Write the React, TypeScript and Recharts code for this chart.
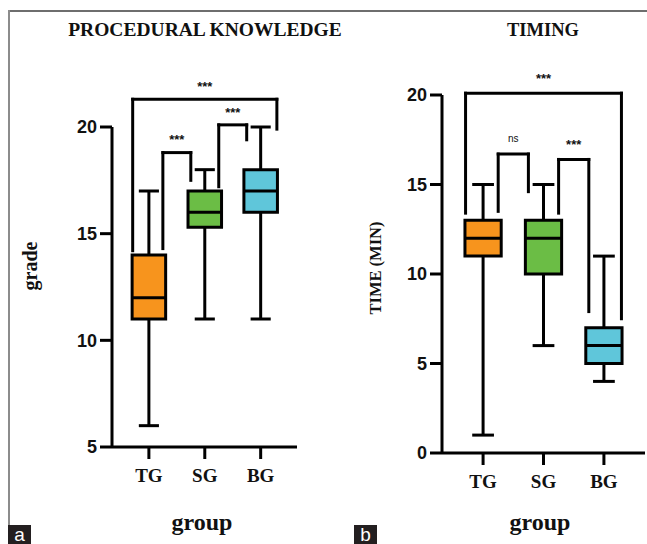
import React from "react";
import {
  ComposedChart,
  XAxis,
  YAxis,
  Scatter,
  ReferenceArea,
  ReferenceLine,
  ReferenceDot,
} from "recharts";

// ─── Data ─────────────────────────────────────────────────────────────────────

const groups = ["TG", "SG", "BG"];
const boxColors = ["#F7941D", "#6BBD45", "#5FC6DA"];

// Panel a: procedural knowledge (grade)
const gradeMin = [6, 11, 11];
const gradeQ1 = [11, 15.3, 16];
const gradeMedian = [12, 16, 17];
const gradeQ3 = [14, 17, 18];
const gradeMax = [17, 18, 20];
const gradeTicks = [5, 10, 15, 20];

// significance brackets: group pair, bar level, where each leg ends, label
const gradePairs = [[0, 2], [0, 1], [1, 2]];
const gradeBarY = [21.3, 18.8, 20.1];
const gradeLegLeft = [14.2, 14.3, 17.2];
const gradeLegRight = [19.9, 17.5, 19.4];
const gradeSig = ["***", "***", "***"];

// Panel b: timing (minutes)
const timeMin = [1, 6, 4];
const timeQ1 = [11, 10, 5];
const timeMedian = [12, 12, 6];
const timeQ3 = [13, 13, 7];
const timeMax = [15, 15, 11];
const timeTicks = [0, 5, 10, 15, 20];

const timePairs = [[0, 2], [0, 1], [1, 2]];
const timeBarY = [20.1, 16.7, 16.4];
const timeLegLeft = [13.4, 13.5, 13.4];
const timeLegRight = [7.5, 14.6, 7.9];
const timeSig = ["***", "ns", "***"];

// ─── Box plot panel ───────────────────────────────────────────────────────────

interface PanelProps {
  width: number;
  height: number;
  margin: { top: number; right: number; bottom: number; left: number };
  xDomain: [number, number];
  yDomain: [number, number];
  yTicks: number[];
  min: number[];
  q1: number[];
  median: number[];
  q3: number[];
  max: number[];
  pairs: number[][];
  barY: number[];
  legLeft: number[];
  legRight: number[];
  sig: string[];
  sigOffset: number;
}

const BOX_HALF = 0.3;
const CAP_HALF = 0.18;
const INNER_LEG = 0.25;

function BoxPanel(p: PanelProps) {
  const line = { stroke: "#000", strokeWidth: 3, ifOverflow: "visible" as const };
  const rows = groups.map((g, i) => ({ group: g, pos: i + 1, median: p.median[i] }));

  return (
    <ComposedChart width={p.width} height={p.height} margin={p.margin} data={rows}>
      <XAxis
        type="number"
        dataKey="pos"
        domain={p.xDomain}
        ticks={[1, 2, 3]}
        allowDataOverflow
        tickFormatter={(v) => groups[v - 1]}
        height={40}
        tickSize={12}
        tickMargin={10}
        axisLine={{ stroke: "#000", strokeWidth: 3 }}
        tickLine={{ stroke: "#000", strokeWidth: 3 }}
        tick={{
          fill: "#111",
          fontSize: 19,
          fontWeight: "bold",
          fontFamily: "'Liberation Serif', 'Times New Roman', serif",
        }}
      />
      <YAxis
        type="number"
        domain={p.yDomain}
        ticks={p.yTicks}
        allowDataOverflow
        width={40}
        tickSize={12}
        tickMargin={3}
        axisLine={{ stroke: "#000", strokeWidth: 3 }}
        tickLine={{ stroke: "#000", strokeWidth: 3 }}
        tick={{
          fill: "#111",
          fontSize: 18,
          fontWeight: "bold",
          fontFamily: "'Liberation Sans', Arial, sans-serif",
        }}
      />

      {/* anchor series so the axes get their scales */}
      <Scatter dataKey="median" isAnimationActive={false} shape={() => <g />} />

      {/* boxes */}
      {groups.map((g, i) => (
        <ReferenceArea
          key={`box-${g}`}
          x1={i + 1 - BOX_HALF}
          x2={i + 1 + BOX_HALF}
          y1={p.q1[i]}
          y2={p.q3[i]}
          fill={boxColors[i]}
          fillOpacity={1}
          stroke="#000"
          strokeWidth={3}
          ifOverflow="visible"
        />
      ))}

      {/* whiskers, caps, medians */}
      {groups.map((g, i) => [
        <ReferenceLine
          key={`up-${g}`}
          {...line}
          segment={[{ x: i + 1, y: p.q3[i] }, { x: i + 1, y: p.max[i] }]}
        />,
        <ReferenceLine
          key={`down-${g}`}
          {...line}
          segment={[{ x: i + 1, y: p.min[i] }, { x: i + 1, y: p.q1[i] }]}
        />,
        <ReferenceLine
          key={`capT-${g}`}
          {...line}
          segment={[
            { x: i + 1 - CAP_HALF, y: p.max[i] },
            { x: i + 1 + CAP_HALF, y: p.max[i] },
          ]}
        />,
        <ReferenceLine
          key={`capB-${g}`}
          {...line}
          segment={[
            { x: i + 1 - CAP_HALF, y: p.min[i] },
            { x: i + 1 + CAP_HALF, y: p.min[i] },
          ]}
        />,
        <ReferenceLine
          key={`med-${g}`}
          {...line}
          segment={[
            { x: i + 1 - BOX_HALF, y: p.median[i] },
            { x: i + 1 + BOX_HALF, y: p.median[i] },
          ]}
        />,
      ])}

      {/* significance brackets */}
      {p.pairs.map(([a, b], k) => {
        const wide = b - a > 1;
        const xa = wide ? a + 1 - BOX_HALF + 0.01 : a + 1 + INNER_LEG;
        const xb = wide ? b + 1 + BOX_HALF - 0.01 : b + 1 - INNER_LEG;
        const y = p.barY[k];
        return [
          <ReferenceLine
            key={`bl-${k}`}
            {...line}
            strokeLinecap="square"
            segment={[{ x: xa, y: p.legLeft[k] }, { x: xa, y }]}
          />,
          <ReferenceLine
            key={`bt-${k}`}
            {...line}
            strokeLinecap="square"
            segment={[{ x: xa, y }, { x: xb, y }]}
          />,
          <ReferenceLine
            key={`br-${k}`}
            {...line}
            strokeLinecap="square"
            segment={[{ x: xb, y }, { x: xb, y: p.legRight[k] }]}
          />,
          <ReferenceDot
            key={`bs-${k}`}
            x={(xa + xb) / 2}
            y={y + p.sigOffset}
            r={1}
            fill="none"
            stroke="none"
            ifOverflow="visible"
            label={{
              value: p.sig[k],
              position: "center",
              fill: "#111",
              fontSize: p.sig[k] === "ns" ? 10 : 13,
              fontWeight: p.sig[k] === "ns" ? "normal" : "bold",
              fontFamily: "'Liberation Sans', Arial, sans-serif",
            }}
          />,
        ];
      })}
    </ComposedChart>
  );
}

// ─── Figure ───────────────────────────────────────────────────────────────────

const serif = "'Liberation Serif', 'Times New Roman', serif";

function Text({
  x,
  y,
  size,
  rotate,
  children,
}: {
  x: number;
  y: number;
  size: number;
  rotate?: boolean;
  children: React.ReactNode;
}) {
  return (
    <div
      style={{
        position: "absolute",
        left: x,
        top: y,
        transform: `translate(-50%, -50%)${rotate ? " rotate(-90deg)" : ""}`,
        fontFamily: serif,
        fontWeight: "bold",
        fontSize: size,
        color: "#111",
        whiteSpace: "nowrap",
        lineHeight: 1,
      }}
    >
      {children}
    </div>
  );
}

function PanelTag({ x, letter }: { x: number; letter: string }) {
  return (
    <div
      style={{
        position: "absolute",
        left: x,
        top: 525,
        width: 23,
        height: 19,
        background: "#231f20",
        color: "#fff",
        fontFamily: "'Liberation Sans', Arial, sans-serif",
        fontSize: 19,
        lineHeight: "19px",
        textAlign: "center",
      }}
    >
      {letter}
    </div>
  );
}

export default function App() {
  return (
    <div
      style={{
        position: "absolute",
        left: 0,
        top: 0,
        width: 647,
        height: 544,
        background: "#fff",
        overflow: "hidden",
      }}
    >
      {/* frame */}
      <div style={{ position: "absolute", left: 8, top: 10, width: 639, height: 2, background: "#6e6e6e" }} />
      <div style={{ position: "absolute", left: 8, top: 10, width: 2, height: 515, background: "#8c8c8c" }} />

      <div style={{ position: "absolute", left: 0, top: 0 }}>
        <BoxPanel
          width={320}
          height={544}
          margin={{ top: 127, right: 23, bottom: 57, left: 72 }}
          xDomain={[0.34, 3.65]}
          yDomain={[5, 20]}
          yTicks={gradeTicks}
          min={gradeMin}
          q1={gradeQ1}
          median={gradeMedian}
          q3={gradeQ3}
          max={gradeMax}
          pairs={gradePairs}
          barY={gradeBarY}
          legLeft={gradeLegLeft}
          legRight={gradeLegRight}
          sig={gradeSig}
          sigOffset={0.6}
        />
      </div>
      <div style={{ position: "absolute", left: 320, top: 0 }}>
        <BoxPanel
          width={327}
          height={544}
          margin={{ top: 95, right: 2, bottom: 51, left: 82 }}
          xDomain={[0.32, 3.68]}
          yDomain={[0, 20]}
          yTicks={timeTicks}
          min={timeMin}
          q1={timeQ1}
          median={timeMedian}
          q3={timeQ3}
          max={timeMax}
          pairs={timePairs}
          barY={timeBarY}
          legLeft={timeLegLeft}
          legRight={timeLegRight}
          sig={timeSig}
          sigOffset={0.85}
        />
      </div>

      <Text x={205} y={30} size={19.5}>PROCEDURAL KNOWLEDGE</Text>
      <Text x={543} y={30} size={18.5}>TIMING</Text>
      <Text x={30} y={266} size={20} rotate>grade</Text>
      <Text x={376} y={268} size={16.5} rotate>TIME (MIN)</Text>
      <Text x={202} y={522} size={24}>group</Text>
      <Text x={540} y={522} size={24}>group</Text>

      <PanelTag x={8} letter="a" />
      <PanelTag x={354} letter="b" />
    </div>
  );
}
